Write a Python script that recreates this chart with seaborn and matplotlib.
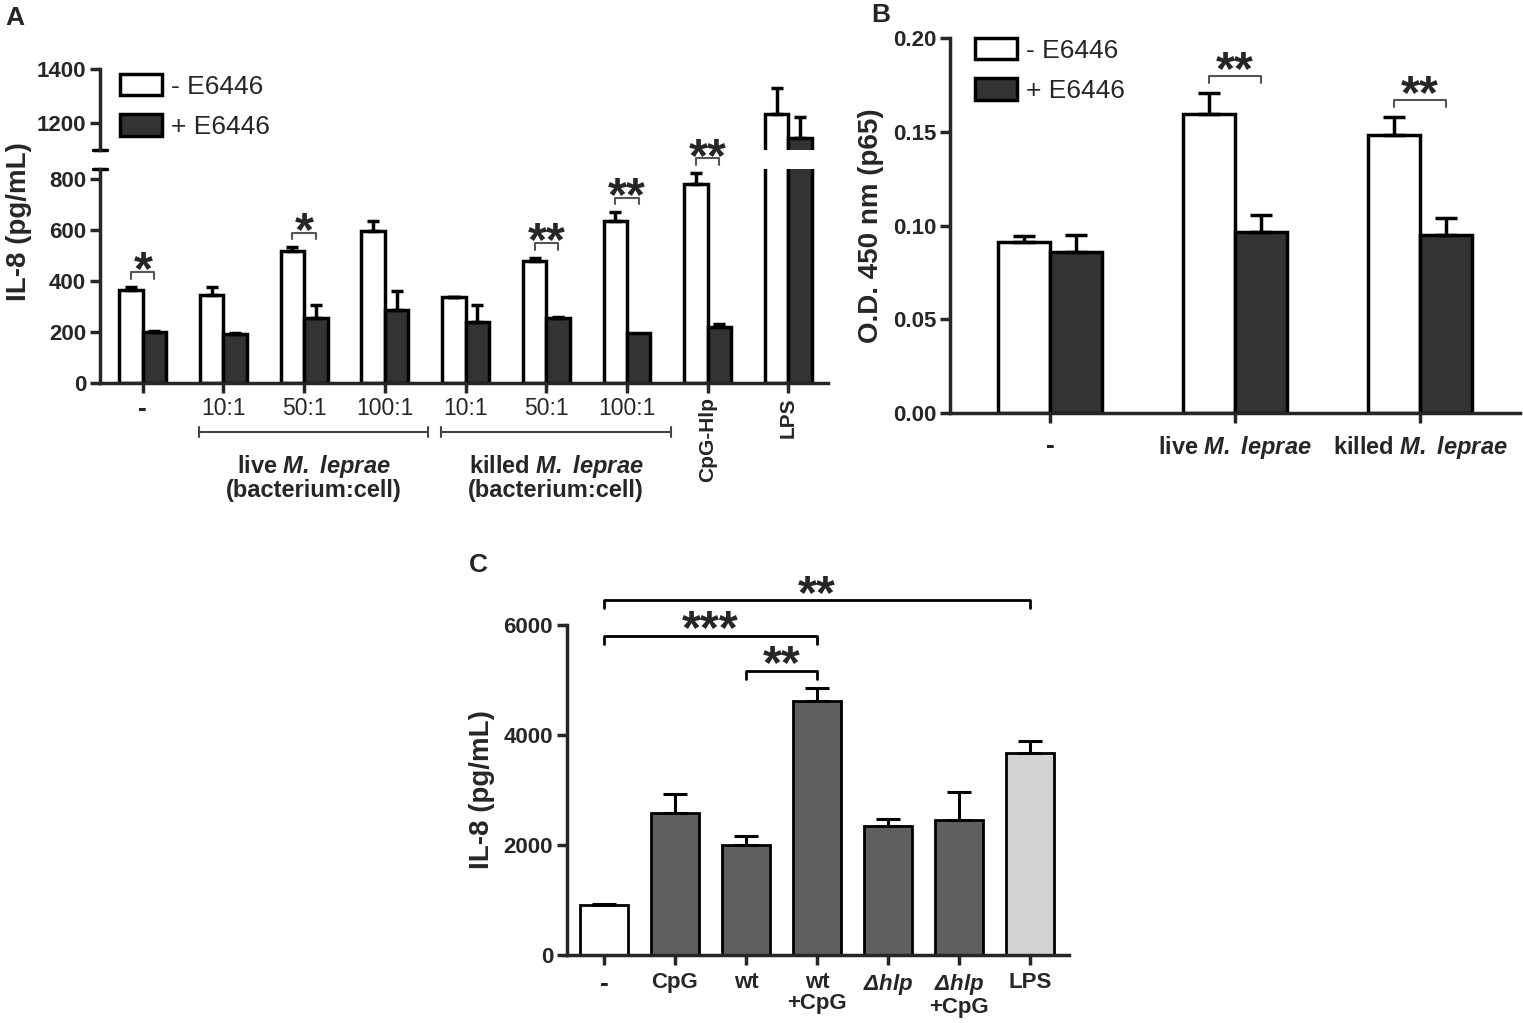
import numpy as np
import pandas as pd
import seaborn as sns
import matplotlib.pyplot as plt
from matplotlib.patches import Patch

sns.set_style("ticks")
plt.rcParams['font.family'] = ['Liberation Sans', 'DejaVu Sans']
plt.rcParams['mathtext.fontset'] = 'custom'
plt.rcParams['mathtext.rm'] = 'Liberation Sans'
plt.rcParams['mathtext.it'] = 'Liberation Sans:italic'
plt.rcParams['mathtext.bf'] = 'Liberation Sans:bold'
plt.rcParams['mathtext.bfit'] = 'Liberation Sans:italic:bold'

# ---- data, panel A (IL-8, pg/mL)
a_keys = ["ctrl", "live10", "live50", "live100", "kill10", "kill50", "kill100", "cpg", "lps"]
a_labels = ["-", "10:1", "50:1", "100:1", "10:1", "50:1", "100:1", "CpG-Hlp", "LPS"]
a_minus = [367, 347, 517, 595, 336, 477, 636, 781, 1233]
a_minus_err = [11, 31, 15, 41, 3, 15, 34, 43, 97]
a_plus = [200, 193, 256, 288, 241, 256, 197, 221, 1144]
a_plus_err = [5, 3, 52, 72, 67, 4, 0, 12, 78]
a_sig = ["*", "", "*", "", "", "**", "**", "**", ""]

# ---- data, panel B (O.D. 450 nm, p65)
b_keys = ["ctrl", "live", "killed"]
b_labels = ["-", "live $\\mathbfit{M.\\ leprae}$", "killed $\\mathbfit{M.\\ leprae}$"]
b_minus = [0.0911, 0.1593, 0.1482]
b_minus_err = [0.0034, 0.0115, 0.0098]
b_plus = [0.0858, 0.0964, 0.0947]
b_plus_err = [0.0092, 0.0093, 0.0093]
b_sig = ["", "**", "**"]

# ---- data, panel C (IL-8, pg/mL)
c_keys = ["ctrl", "cpg", "wt", "wtcpg", "dhlp", "dhlpcpg", "lps"]
c_labels = ["-", "CpG", "wt", "wt\n+CpG", "$\\mathbfit{\\Delta hlp}$", "$\\mathbfit{\\Delta hlp}$\n+CpG", "LPS"]
c_vals = [909, 2582, 2000, 4618, 2345, 2455, 3673]
c_err = [18, 345, 164, 237, 128, 509, 218]
c_colors = ["white", "#5f5f5f", "#5f5f5f", "#5f5f5f", "#5f5f5f", "#5f5f5f", "#d3d3d3"]
c_comps = [(2, 3, "**"), (0, 3, "***"), (0, 6, "**")]

treat = ["- E6446", "+ E6446"]
pal = {"- E6446": "white", "+ E6446": "#333333"}

W, H = 1523, 1023
fig = plt.figure(figsize=(W / 100, H / 100), dpi=100)


def box(l, t, r, b):
    return [l / W, 1 - b / H, (r - l) / W, (b - t) / H]


def style(ax, lw=2.5):
    sns.despine(ax=ax)
    for s in ("left", "bottom"):
        ax.spines[s].set_linewidth(lw)
    ax.tick_params(width=lw, length=7, labelsize=16, pad=3)
    for lab in ax.get_yticklabels():
        lab.set_fontweight("bold")


def add_err(ax, bars, errs, capsize, lw):
    xs, ys, es = [], [], []
    for bar, e in zip(bars, errs):
        if e > 0:
            xs.append(bar.get_x() + bar.get_width() / 2)
            ys.append(bar.get_height())
            es.append(e)
    ax.errorbar(xs, ys, yerr=[np.zeros(len(es)), es], fmt="none", ecolor="black",
                elinewidth=lw, capsize=capsize, capthick=lw, zorder=4)


def pair_sig(ax, conts, errs, sig, offset, drop, fs, lw, col, dy):
    for i, s in enumerate(sig):
        if not s:
            continue
        b0, b1 = conts[0][i], conts[1][i]
        x0 = b0.get_x() + b0.get_width() / 2
        x1 = b1.get_x() + b1.get_width() / 2
        y = max(b0.get_height() + errs[0][i], b1.get_height() + errs[1][i]) + offset
        ax.plot([x0, x0, x1, x1], [y - drop, y, y, y - drop], color=col, lw=lw, clip_on=False)
        ax.annotate(s, ((x0 + x1) / 2, y), xytext=(0, dy), textcoords="offset points",
                    ha="center", va="baseline", fontsize=fs, fontweight="bold",
                    annotation_clip=False, zorder=6)


# ================= panel A (broken axis)
dfA = pd.DataFrame({"cond": a_keys * 2,
                    "treat": [treat[0]] * len(a_keys) + [treat[1]] * len(a_keys),
                    "il8": a_minus + a_plus})
axA_lo = fig.add_axes(box(100, 169, 828, 383))
axA_hi = fig.add_axes(box(100, 69, 828, 150))
axA_hi.patch.set_visible(False)
for ax in (axA_lo, axA_hi):
    sns.barplot(data=dfA, x="cond", y="il8", hue="treat", order=a_keys, hue_order=treat,
                palette=pal, width=0.58, gap=0, edgecolor="black", linewidth=2.5,
                errorbar=None, legend=False, ax=ax)
    for cont, errs in zip(ax.containers, [a_minus_err, a_plus_err]):
        add_err(ax, cont, errs, 4, 2.5)
    ax.set_xlim(-0.53, 8.49)
    ax.set_xlabel("")
    ax.set_ylabel("")

axA_lo.set_ylim(0, 840)
axA_lo.set_yticks([0, 200, 400, 600, 800])
axA_hi.set_ylim(1100, 1400)
axA_hi.set_yticks([1200, 1400])
axA_lo.set_xticks(range(len(a_keys)))
axA_lo.set_xticklabels(a_labels)
style(axA_lo)
style(axA_hi)
axA_hi.spines["bottom"].set_visible(False)
axA_hi.tick_params(axis="x", bottom=False, labelbottom=False)
xl = axA_lo.get_xticklabels()
for lab in xl:
    lab.set_fontsize(16.5)
xl[0].set_fontweight("bold")
xl[0].set_fontsize(19)
for k in (7, 8):
    xl[k].set_rotation(90)
    xl[k].set_fontweight("bold")
    xl[k].set_fontsize(15)

# break marks
axA_hi.plot([-0.01, 0.01], [0, 0], transform=axA_hi.transAxes, color="black", lw=2.5, clip_on=False)
axA_lo.plot([-0.01, 0.01], [1, 1], transform=axA_lo.transAxes, color="black", lw=2.5, clip_on=False)

pair_sig(axA_lo, axA_lo.containers, [a_minus_err, a_plus_err], a_sig, 58, 26, 35, 1.5, "#555555", -9)

# group brackets under the x axis
trA = axA_lo.get_xaxis_transform()
for first, last, name in [(1, 3, "live"), (4, 6, "killed")]:
    x0, x1 = first - 0.3, last + 0.54
    axA_lo.plot([x0, x1], [-0.229, -0.229], transform=trA, color="#444444", lw=1.5, clip_on=False)
    for xx in (x0, x1):
        axA_lo.plot([xx, xx], [-0.205, -0.253], transform=trA, color="#444444", lw=1.5, clip_on=False)
    axA_lo.text((x0 + x1) / 2, -0.39, name + " $\\mathbfit{M.\\ leprae}$", transform=trA,
                ha="center", va="center", fontsize=17, fontweight="bold")
    axA_lo.text((x0 + x1) / 2, -0.50, "(bacterium:cell)", transform=trA,
                ha="center", va="center", fontsize=17, fontweight="bold")

fig.text(19 / W, 1 - 222 / H, "IL-8 (pg/mL)", rotation=90, ha="center", va="center",
         fontsize=20, fontweight="bold")
handles = [Patch(facecolor=pal[t], edgecolor="black", linewidth=2.5) for t in treat]
legkw = dict(frameon=False, fontsize=19, borderpad=0, borderaxespad=0, handlelength=1.6,
             handleheight=0.85, handletextpad=0.35, labelspacing=0.6)
axA_hi.legend(handles, treat, loc="upper left", bbox_to_anchor=(120 / W, 1 - 74 / H),
              bbox_transform=fig.transFigure, **legkw)

# ================= panel B
dfB = pd.DataFrame({"cond": b_keys * 2,
                    "treat": [treat[0]] * len(b_keys) + [treat[1]] * len(b_keys),
                    "od": b_minus + b_plus})
axB = fig.add_axes(box(950, 38, 1520, 413))
sns.barplot(data=dfB, x="cond", y="od", hue="treat", order=b_keys, hue_order=treat,
            palette=pal, width=0.56, gap=0, edgecolor="black", linewidth=2.5,
            errorbar=None, legend=False, ax=axB)
for cont, errs in zip(axB.containers, [b_minus_err, b_plus_err]):
    add_err(axB, cont, errs, 8, 2.5)
axB.set_xlim(-0.54, 2.54)
axB.set_ylim(0, 0.20)
axB.set_yticks([0, 0.05, 0.10, 0.15, 0.20])
axB.set_yticklabels(["0.00", "0.05", "0.10", "0.15", "0.20"])
axB.set_xticks(range(len(b_keys)))
axB.set_xticklabels(b_labels, fontweight="bold")
axB.set_xlabel("")
axB.set_ylabel("O.D. 450 nm (p65)", fontsize=20, fontweight="bold", labelpad=6)
style(axB)
for lab in axB.get_xticklabels():
    lab.set_fontsize(17)
axB.get_xticklabels()[0].set_fontsize(19)
axB.tick_params(axis="x", pad=8)
pair_sig(axB, axB.containers, [b_minus_err, b_plus_err], b_sig, 0.0087, 0.0037, 35, 1.5, "#555555", -5.5)
axB.legend(handles, treat, loc="upper left", bbox_to_anchor=(975 / W, 1 - 38 / H),
           bbox_transform=fig.transFigure, **legkw)

# ================= panel C
axC = fig.add_axes(box(567, 625, 1069, 955))
sns.barplot(x=c_keys, y=c_vals, hue=c_keys, palette=c_colors, width=0.67,
            edgecolor="black", linewidth=2, errorbar=None, legend=False, ax=axC)
barsC = [p for p in axC.patches]
add_err(axC, barsC, c_err, 8.5, 2.2)
axC.set_xlim(-0.52, 6.55)
axC.set_ylim(0, 6000)
axC.set_yticks([0, 2000, 4000, 6000])
axC.set_xticks(range(len(c_keys)))
axC.set_xticklabels(c_labels, fontweight="bold", linespacing=1.0)
axC.set_ylabel("IL-8 (pg/mL)", fontsize=20, fontweight="bold", labelpad=6)
style(axC, 2.5)
for lab in axC.get_xticklabels():
    lab.set_fontsize(16)
axC.get_xticklabels()[0].set_fontsize(19)
axC.tick_params(axis="x", pad=5)

tops = [b.get_height() + e for b, e in zip(barsC, c_err)]
for lvl, (i, j, s) in enumerate(c_comps):
    xi = barsC[i].get_x() + barsC[i].get_width() / 2
    xj = barsC[j].get_x() + barsC[j].get_width() / 2
    y = max(tops[i:j + 1]) + 311 + 640 * lvl
    axC.plot([xi, xi, xj, xj], [y - 145, y, y, y - 145], color="black", lw=2, clip_on=False)
    axC.annotate(s, ((xi + xj) / 2, y), xytext=(0, -5.5), textcoords="offset points",
                 ha="center", va="baseline", fontsize=35, fontweight="bold",
                 annotation_clip=False)

# panel letters
fig.text(15 / W, 1 - 18 / H, "A", fontsize=19, fontweight="bold", ha="center", va="center")
fig.text(881 / W, 1 - 15 / H, "B", fontsize=19, fontweight="bold", ha="center", va="center")
fig.text(478 / W, 1 - 565 / H, "C", fontsize=19, fontweight="bold", ha="center", va="center")

fig.savefig("out.png", dpi=100)
